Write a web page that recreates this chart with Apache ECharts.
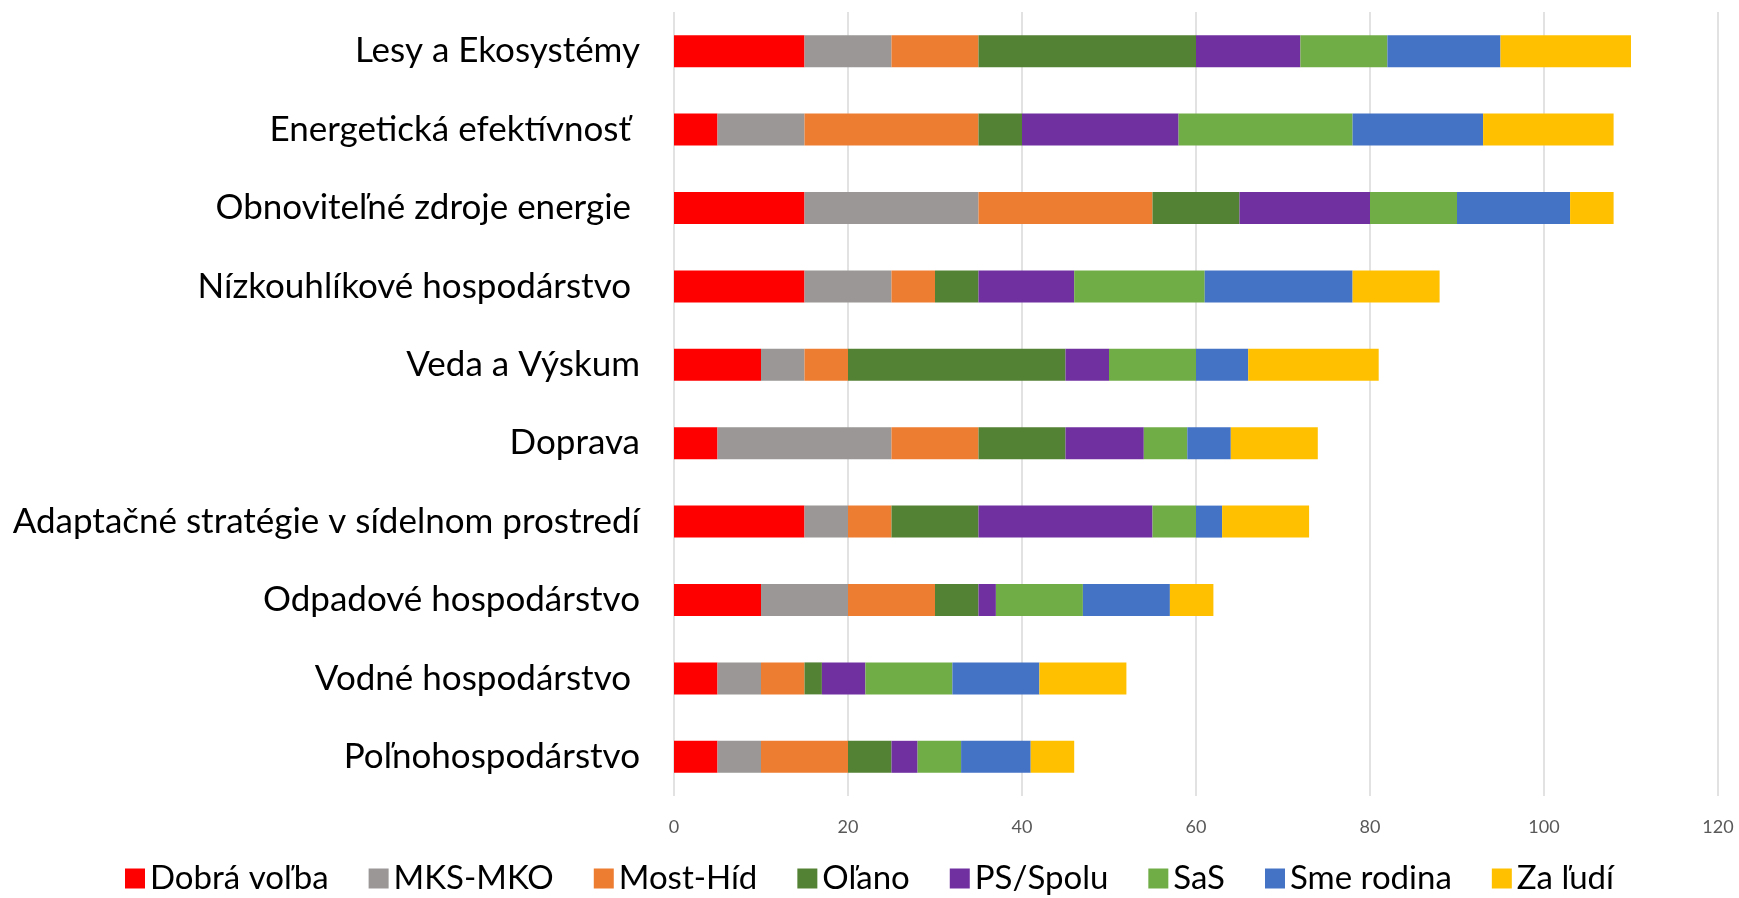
<!DOCTYPE html>
<html>
<head>
<meta charset="utf-8">
<script src="https://cdn.jsdelivr.net/npm/echarts@6/dist/echarts.min.js"></script>
<style>
html,body{margin:0;padding:0;background:#fff;}
#chart{width:1739px;height:898px;}
</style>
</head>
<body>
<div id="chart"></div>
<script>
const categories = [
  "Lesy a Ekosystémy",
  "Energetická efektívnosť ",
  "Obnoviteľné zdroje energie ",
  "Nízkouhlíkové hospodárstvo ",
  "Veda a Výskum",
  "Doprava",
  "Adaptačné stratégie v sídelnom prostredí",
  "Odpadové hospodárstvo",
  "Vodné hospodárstvo ",
  "Poľnohospodárstvo"
];
const seriesNames = ["Dobrá voľba","MKS-MKO","Most-Híd","Oľano","PS/Spolu","SaS","Sme rodina","Za ľudí"];
const dobraVolba = [15, 5, 15, 15, 10, 5, 15, 10, 5, 5];
const mksMko     = [10, 10, 20, 10, 5, 20, 5, 10, 5, 5];
const mostHid    = [10, 20, 20, 5, 5, 10, 5, 10, 5, 10];
const olano      = [25, 5, 10, 5, 25, 10, 10, 5, 2, 5];
const psSpolu    = [12, 18, 15, 11, 5, 9, 20, 2, 5, 3];
const sas        = [10, 20, 10, 15, 10, 5, 5, 10, 10, 5];
const smeRodina  = [13, 15, 13, 17, 6, 5, 3, 10, 10, 8];
const zaLudi     = [15, 15, 5, 10, 15, 10, 10, 5, 10, 5];
const xTicks = [0, 20, 40, 60, 80, 100, 120];

const values = [dobraVolba, mksMko, mostHid, olano, psSpolu, sas, smeRodina, zaLudi];
const colors = ["#FF0000","#9A9796","#ED7D31","#548235","#7030A0","#70AD47","#4472C4","#FFC000"];

const chart = echarts.init(document.getElementById('chart'));
chart.setOption({
  animation: false,
  color: colors,
  grid: { left: 674, right: 21, top: 12, bottom: 102, containLabel: false },
  legend: {
    top: 857,
    left: 'center',
    itemWidth: 20,
    itemHeight: 20,
    itemGap: 40,
    icon: 'rect',
    textStyle: { fontFamily: 'Lato', fontSize: 33, color: '#000' },
    data: seriesNames
  },
  xAxis: {
    type: 'value',
    min: xTicks[0],
    max: xTicks[xTicks.length - 1],
    interval: 20,
    axisLine: { show: false },
    axisTick: { show: false },
    splitLine: { show: true, lineStyle: { color: '#D9D9D9', width: 1.5 } },
    axisLabel: { fontFamily: 'Lato', fontSize: 18, color: '#595959', margin: 22 }
  },
  yAxis: {
    type: 'category',
    inverse: true,
    data: categories,
    axisLine: { show: false },
    axisTick: { show: false },
    axisLabel: { fontFamily: 'Lato', fontSize: 35, color: '#000', margin: 34 }
  },
  series: seriesNames.map((name, i) => ({
    name: name,
    type: 'bar',
    stack: 'total',
    barWidth: 32,
    data: values[i]
  }))
});
</script>
</body>
</html>
